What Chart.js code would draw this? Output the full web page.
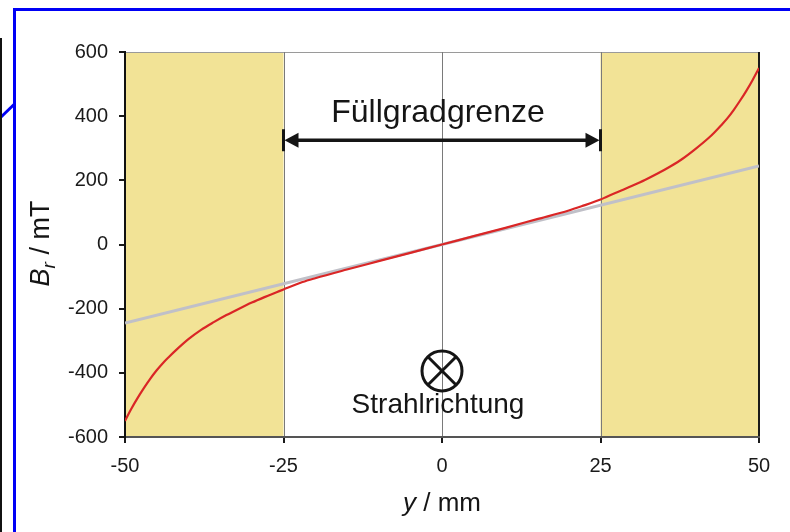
<!DOCTYPE html>
<html>
<head>
<meta charset="utf-8">
<script src="https://cdn.jsdelivr.net/npm/chart.js@4/dist/chart.umd.min.js"></script>
<style>
  html, body { margin: 0; padding: 0; background: #fff; }
  #wrap { width: 790px; height: 532px; }
</style>
</head>
<body>
<div id="wrap"><canvas id="c" width="790" height="532"></canvas></div>
<script>
// Beam position y in mm
const positions = [-50,-49,-48,-47,-46,-45,-44,-43,-42,-40,-38,-36,-34,-32,-30,-28,-26,-25,-22,-20,-15,-10,-5,0,5,10,15,20,22,25,26,28,30,32,34,36,38,40,42,43,44,45,46,47,48,49,50];
// Radial field B_r in mT (measured curve)
const fieldMeasured = [-550,-512,-478,-447,-418,-392,-369,-349,-330,-295,-266,-242,-220,-200,-181,-164,-148,-140,-117,-105,-78,-52,-26,0,26,52,79,106,119,140,149,166,183,201,221,243,268,298,331,350,371,393,419,448,479,513,550];
// Linear reference field
const linearPositions = [-50, 0, 50];
const fieldLinear = [-245, 0, 245];

// Axis ranges and ticks
const yTicks = [-600, -400, -200, 0, 200, 400, 600];
const xTicks = [-50, -25, 0, 25, 50];
// Shaded regions beyond the filling limit
const shadedBands = [[-50, -25], [25, 50]];
const markerLines = [-25, 0, 25];

const FONT = '"Liberation Sans", Arial, Helvetica, sans-serif';

const decor = {
  id: 'decor',
  beforeDraw(chart) {
    const { ctx, chartArea: a, scales: { x, y } } = chart;
    ctx.save();
    ctx.fillStyle = 'rgb(242,227,150)';
    shadedBands.forEach(([from, to]) => {
      const x0 = x.getPixelForValue(from), x1 = x.getPixelForValue(to);
      ctx.fillRect(x0, a.top, x1 - x0, a.bottom - a.top);
    });
    // top frame line
    ctx.strokeStyle = '#9a9a9a';
    ctx.lineWidth = 1;
    ctx.beginPath();
    ctx.moveTo(a.left, a.top + 0.5);
    ctx.lineTo(a.right, a.top + 0.5);
    ctx.stroke();
    // vertical markers
    ctx.strokeStyle = '#7a7a7a';
    markerLines.forEach(v => {
      const px = Math.round(x.getPixelForValue(v)) + 0.5;
      ctx.beginPath();
      ctx.moveTo(px, a.top);
      ctx.lineTo(px, a.bottom);
      ctx.stroke();
    });
    // right frame line
    ctx.strokeStyle = '#1a1a1a';
    ctx.lineWidth = 2;
    ctx.beginPath();
    ctx.moveTo(a.right, a.top);
    ctx.lineTo(a.right, a.bottom + 6);
    ctx.stroke();
    ctx.restore();
  },
  afterDraw(chart) {
    const { ctx, chartArea: a, scales: { x, y } } = chart;
    ctx.save();
    ctx.fillStyle = '#151515';
    ctx.strokeStyle = '#151515';

    // "Füllgradgrenze" label with double arrow
    const xl = x.getPixelForValue(-25), xr = x.getPixelForValue(25);
    const ay = y.getPixelForValue(325);
    ctx.font = '32px ' + FONT;
    ctx.textAlign = 'center';
    ctx.textBaseline = 'alphabetic';
    ctx.fillText('Füllgradgrenze', (xl + xr) / 2 - 4, y.getPixelForValue(381));
    ctx.lineWidth = 3.5;
    ctx.beginPath();
    ctx.moveTo(xl + 8, ay);
    ctx.lineTo(xr - 8, ay);
    ctx.stroke();
    [[xl, 1], [xr, -1]].forEach(([px, dir]) => {
      ctx.beginPath();
      ctx.moveTo(px + 1 * dir, ay);
      ctx.lineTo(px + 15 * dir, ay - 7.5);
      ctx.lineTo(px + 15 * dir, ay + 7.5);
      ctx.closePath();
      ctx.fill();
      ctx.fillRect(px - 1.5, ay - 11, 3, 22);
    });

    // beam direction symbol
    const cx = x.getPixelForValue(0), cy = y.getPixelForValue(-394);
    const r = 20;
    ctx.lineWidth = 3;
    ctx.beginPath();
    ctx.arc(cx, cy, r, 0, Math.PI * 2);
    ctx.stroke();
    const d = r * Math.SQRT1_2;
    ctx.beginPath();
    ctx.moveTo(cx - d, cy - d); ctx.lineTo(cx + d, cy + d);
    ctx.moveTo(cx + d, cy - d); ctx.lineTo(cx - d, cy + d);
    ctx.stroke();
    ctx.font = '28px ' + FONT;
    ctx.fillText('Strahlrichtung', cx - 4, y.getPixelForValue(-525));

    // x-axis title: y / mm
    ctx.textAlign = 'left';
    const t1 = 'y', t2 = ' / mm';
    ctx.font = 'italic 26px ' + FONT;
    const w1 = ctx.measureText(t1).width;
    ctx.font = '26px ' + FONT;
    const w2 = ctx.measureText(t2).width;
    let sx = (a.left + a.right) / 2 - (w1 + w2) / 2;
    ctx.font = 'italic 26px ' + FONT;
    ctx.fillText(t1, sx, 511);
    ctx.font = '26px ' + FONT;
    ctx.fillText(t2, sx + w1, 511);

    // y-axis title: B_r / mT
    ctx.translate(49, (a.top + a.bottom) / 2 - 1);
    ctx.rotate(-Math.PI / 2);
    ctx.font = 'italic 27px ' + FONT;
    const wb = ctx.measureText('B').width;
    ctx.font = 'italic 19px ' + FONT;
    const wr = ctx.measureText('r').width;
    ctx.font = '27px ' + FONT;
    const wt = ctx.measureText(' / mT').width;
    let px = -(wb + wr + wt) / 2;
    ctx.font = 'italic 27px ' + FONT;
    ctx.fillText('B', px, 0);
    ctx.font = 'italic 19px ' + FONT;
    ctx.fillText('r', px + wb, 6);
    ctx.font = '27px ' + FONT;
    ctx.fillText(' / mT', px + wb + wr, 0);
    ctx.restore();

    // surrounding frame
    ctx.save();
    ctx.strokeStyle = '#0000f5';
    ctx.lineWidth = 3;
    ctx.beginPath();
    ctx.moveTo(14.5, 532);
    ctx.lineTo(14.5, 9.5);
    ctx.lineTo(790, 9.5);
    ctx.stroke();
    ctx.beginPath();
    ctx.moveTo(0, 118);
    ctx.lineTo(14.5, 104);
    ctx.stroke();
    ctx.strokeStyle = '#111';
    ctx.lineWidth = 2;
    ctx.beginPath();
    ctx.moveTo(1, 38);
    ctx.lineTo(1, 532);
    ctx.stroke();
    ctx.restore();
  }
};

new Chart(document.getElementById('c'), {
  type: 'line',
  data: {
    datasets: [
      {
        label: 'B_r',
        data: positions.map((p, i) => ({ x: p, y: fieldMeasured[i] })),
        borderColor: 'rgb(218,38,38)',
        borderWidth: 2.2,
        pointRadius: 0,
        cubicInterpolationMode: 'monotone',
        fill: false
      },
      {
        label: 'linear',
        data: linearPositions.map((p, i) => ({ x: p, y: fieldLinear[i] })),
        borderColor: 'rgb(192,192,200)',
        borderWidth: 3,
        pointRadius: 0,
        fill: false
      }
    ]
  },
  options: {
    responsive: false,
    devicePixelRatio: 1,
    animation: false,
    layout: { padding: { left: 0, top: 52, right: 31, bottom: 0 } },
    plugins: { legend: { display: false }, tooltip: { enabled: false } },
    scales: {
      x: {
        type: 'linear',
        min: -50, max: 50,
        afterFit(s) { s.height = 95; },
        afterBuildTicks(s) { s.ticks = xTicks.map(v => ({ value: v })); },
        grid: { display: true, drawOnChartArea: false, drawTicks: true, tickLength: 6, color: '#1a1a1a', lineWidth: 2 },
        border: { display: true, color: '#555', width: 2 },
        ticks: { color: '#1a1a1a', padding: 11, font: { family: FONT, size: 20 } }
      },
      y: {
        type: 'linear',
        min: -600, max: 600,
        afterFit(s) { s.width = 125; },
        afterBuildTicks(s) { s.ticks = yTicks.map(v => ({ value: v })); },
        grid: { display: true, drawOnChartArea: false, drawTicks: true, tickLength: 6, color: '#1a1a1a', lineWidth: 2 },
        border: { display: true, color: '#111', width: 2 },
        ticks: { color: '#1a1a1a', padding: 11, font: { family: FONT, size: 20 } }
      }
    }
  },
  plugins: [decor]
});
</script>
</body>
</html>
